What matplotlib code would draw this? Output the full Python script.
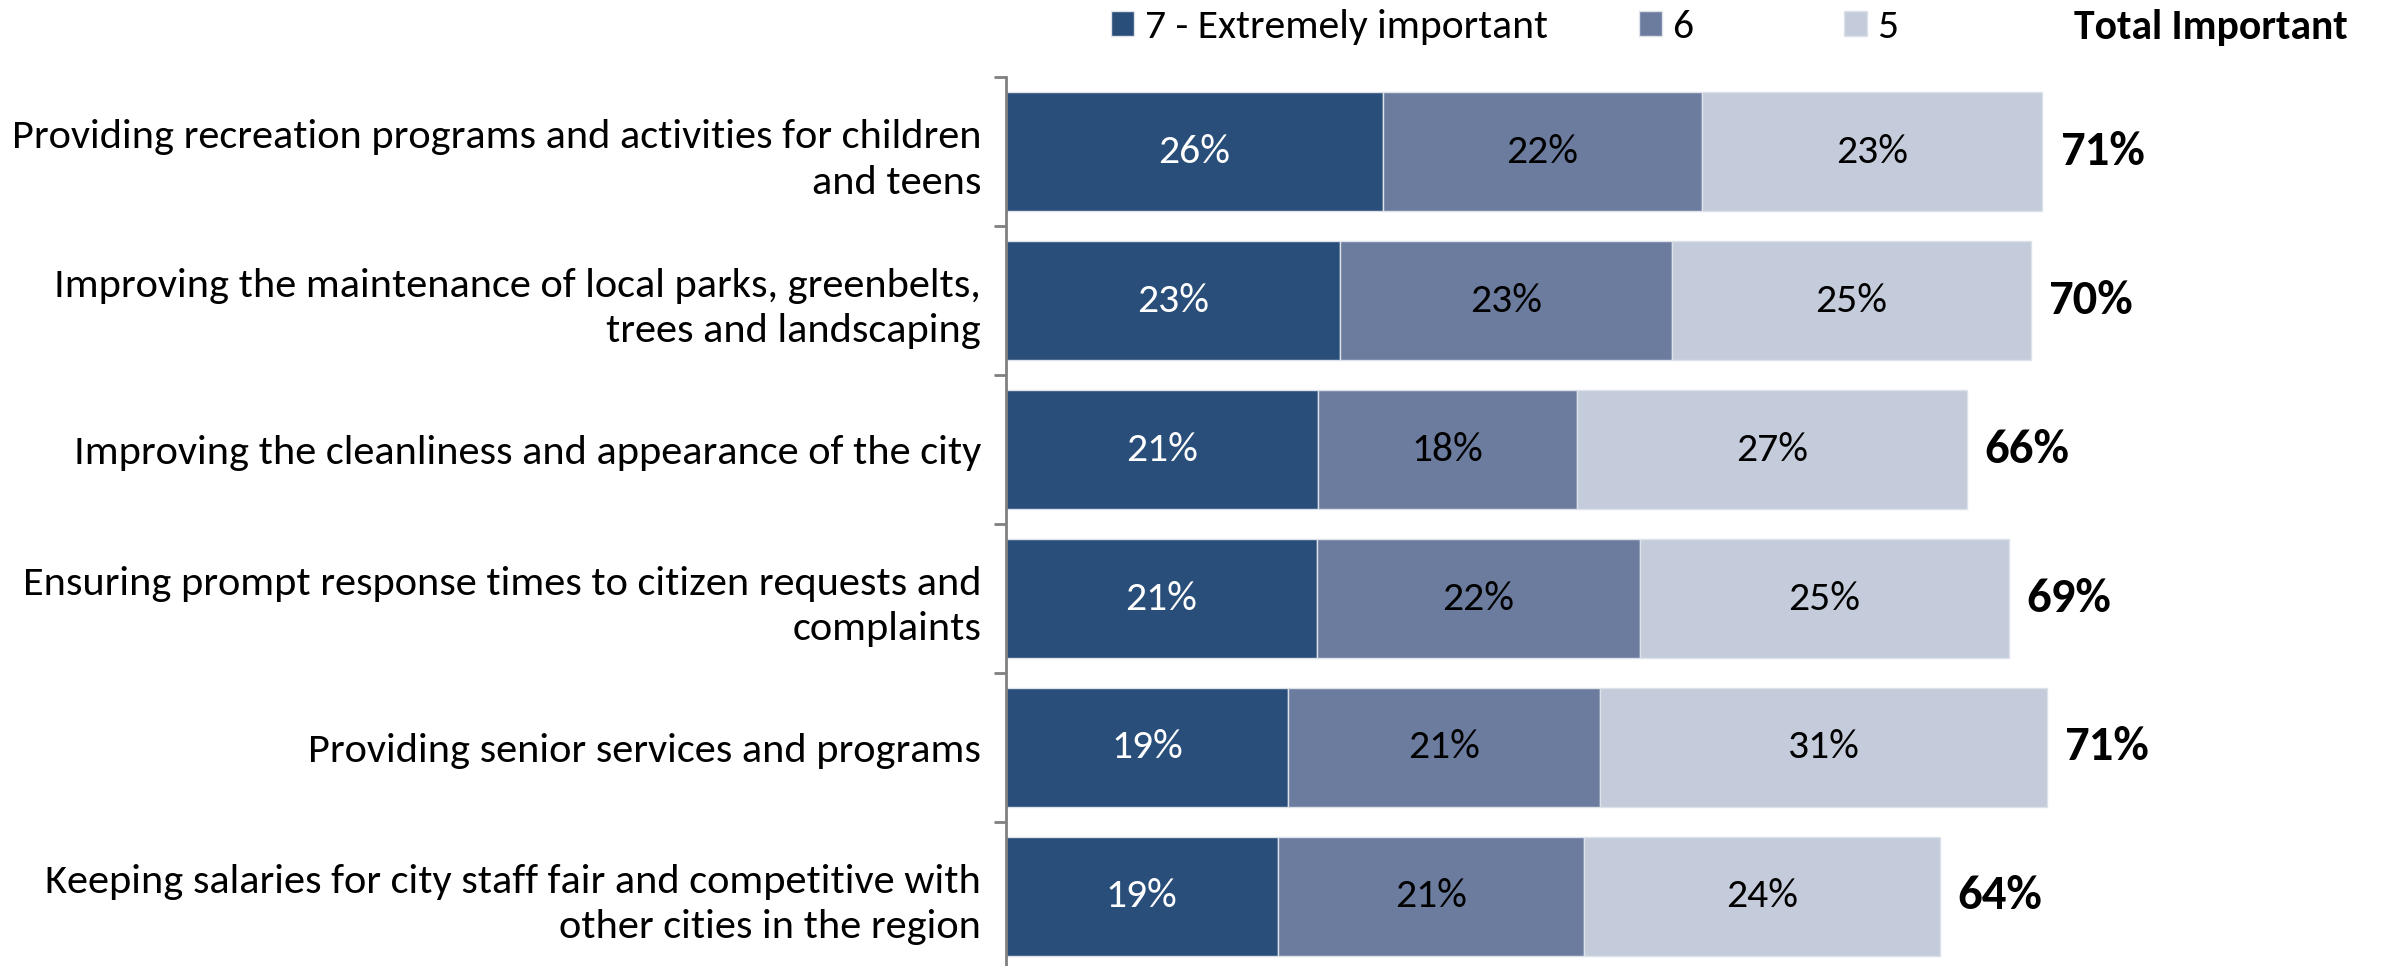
import matplotlib
matplotlib.use("Agg")
import matplotlib.pyplot as plt
import numpy as np

# values (percent)
categories = [
    "Providing recreation programs and activities for children\nand teens",
    "Improving the maintenance of local parks, greenbelts,\ntrees and landscaping",
    "Improving the cleanliness and appearance of the city",
    "Ensuring prompt response times to citizen requests and\ncomplaints",
    "Providing senior services and programs",
    "Keeping salaries for city staff fair and competitive with\nother cities in the region",
]
extremely = [25.8, 22.9, 21.4, 21.3, 19.3, 18.6]
six = [21.9, 22.7, 17.7, 22.1, 21.4, 21.0]
five = [23.3, 24.6, 26.7, 25.3, 30.6, 24.4]
totals = [71, 70, 66, 69, 71, 64]

series_names = ["7 - Extremely important", "6", "5"]
colors = ["#294E79", "#6C7C9F", "#C4CBDA"]
text_colors = ["white", "black", "black"]

fonts = ["Carlito", "Liberation Sans Narrow", "DejaVu Sans"]
plt.rcParams["font.family"] = fonts

fig = plt.figure(figsize=(23.84, 9.66), dpi=100)
ax = fig.add_axes([0.422, -0.005, 0.578, 0.925])

y = np.arange(len(categories))
left = np.zeros(len(categories))
bars = []
for vals, name, col, tcol in zip([extremely, six, five], series_names, colors, text_colors):
    b = ax.barh(y, vals, left=left, height=0.8, color=col, edgecolor="#DDE2EA",
                linewidth=1, label=name)
    bars.append(b)
    for yi, v, l in zip(y, vals, left):
        ax.text(l + v / 2, yi, f"{v:.0f}%", ha="center", va="center",
                color=tcol, fontsize=30)
    left = left + np.array(vals)

for yi, end, tot in zip(y, left, totals):
    ax.text(end + 1.2, yi, f"{tot}%", ha="left", va="center",
            fontsize=35, fontweight="bold", color="black")

ax.set_xlim(0, 94.4)
ax.set_ylim(len(categories) - 0.5, -0.5)
ax.set_xticks([])
ax.set_yticks(y)
ax.set_yticklabels(categories, fontsize=30.5, linespacing=1.32)
ax.tick_params(axis="y", which="major", length=0, pad=18)
ax.set_yticks(np.arange(len(categories) + 1) - 0.5, minor=True)
ax.tick_params(axis="y", which="minor", length=9, width=2, color="#808080")
for s in ["top", "right", "bottom"]:
    ax.spines[s].set_visible(False)
ax.spines["left"].set_color("#808080")
ax.spines["left"].set_linewidth(2)

# legend entries placed one by one to match the spacing of the original
legend_x = [0.4662, 0.6876, 0.7736]
for b, name, lx in zip(bars, series_names, legend_x):
    fig.legend([b], [name], loc="center left", bbox_to_anchor=(lx, 0.972),
               frameon=False, fontsize=30, handlelength=0.55, handleheight=0.55,
               handletextpad=0.25, borderpad=0, borderaxespad=0)
fig.text(0.985, 0.972, "Total Important", ha="right", va="center",
         fontsize=30, fontweight="bold")

fig.savefig("out.png", dpi=100)
plt.close(fig)
